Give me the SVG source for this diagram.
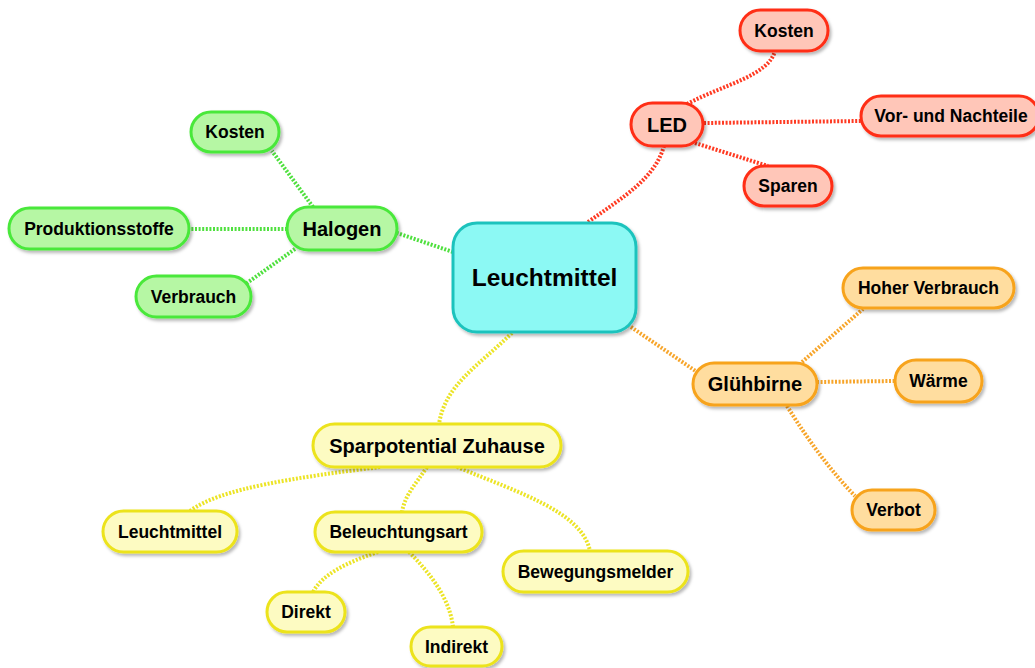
<svg xmlns="http://www.w3.org/2000/svg" width="1035" height="668" viewBox="0 0 1035 668">
<defs>
<filter id="sh" x="-20%" y="-30%" width="140%" height="160%">
<feDropShadow dx="2" dy="2.5" stdDeviation="1.5" flood-color="#000" flood-opacity="0.28"/>
</filter>
<style>
.c{fill:none;stroke-width:4;stroke-dasharray:2 1.6}
.cr{stroke:#ff3a22}.cg{stroke:#4fe03e}.co{stroke:#f7a52a}.cy{stroke:#ece426}
rect{stroke-width:3;filter:url(#sh)}
.r{fill:#ffc6b8;stroke:#ff2d14}
.g{fill:#b6f7a4;stroke:#4ae83a}
.o{fill:#ffdd9f;stroke:#f7a31c}
.y{fill:#fdfbc2;stroke:#ece31c}
.m{fill:#8cf9f4;stroke:#1fc3bd}
text{font-family:"Liberation Sans",Arial,Helvetica,sans-serif;font-weight:bold;fill:#000;text-anchor:middle}
.s{font-size:17.5px}.b{font-size:20px}.x{font-size:24.5px}
</style>
</defs>
<rect width="1035" height="668" fill="#fff" style="filter:none;stroke:none"/>
<g id="connectors">
<path class="c cr" d="M588,222 C625,196 655,178 664,146"/>
<path class="c cg" d="M453,252 L397,233"/>
<path class="c co" d="M628,325 L697,372"/>
<path class="c cy" d="M512,333 C478,366 445,385 439,424"/>
<path class="c cr" d="M687,104 C725,84 768,76 775,51"/>
<path class="c cr" d="M704,123 L861,121"/>
<path class="c cr" d="M695,143 L768,166"/>
<path class="c cg" d="M313,207 L272,151"/>
<path class="c cg" d="M287,229 L189,229"/>
<path class="c cg" d="M295,249 L247,283"/>
<path class="c co" d="M802,362 L863,309"/>
<path class="c co" d="M817,382 L895,381"/>
<path class="c co" d="M787,406 C808,440 830,470 855,496"/>
<path class="c cy" d="M380,467 C300,477 220,488 190,511"/>
<path class="c cy" d="M427,467 C415,485 405,495 402,512"/>
<path class="c cy" d="M457,467 C520,493 582,512 590,551"/>
<path class="c cy" d="M378,552 C345,563 322,575 313,592"/>
<path class="c cy" d="M409,552 C432,575 450,600 453,627"/>
</g>
<g id="n-center"><rect class="m" x="453" y="223" width="183" height="109" rx="24"/><text class="x" x="544.5" y="286">Leuchtmittel</text></g>
<g id="n-led"><rect class="r" x="631" y="103" width="72" height="43" rx="21.5"/><text class="b" x="667" y="131.5">LED</text></g>
<g id="n-led-kosten"><rect class="r" x="740" y="10" width="88" height="41" rx="20.5"/><text class="s" x="784" y="36.5">Kosten</text></g>
<g id="n-vor"><rect class="r" x="861" y="96" width="178" height="40" rx="20"/><text class="s" x="951" y="122">Vor- und Nachteile</text></g>
<g id="n-sparen"><rect class="r" x="744" y="166" width="88" height="40" rx="20"/><text class="s" x="788" y="192">Sparen</text></g>
<g id="n-halogen"><rect class="g" x="287" y="207" width="110" height="43" rx="21.5"/><text class="b" x="342" y="235.5">Halogen</text></g>
<g id="n-hal-kosten"><rect class="g" x="191" y="112" width="88" height="40" rx="20"/><text class="s" x="235" y="138">Kosten</text></g>
<g id="n-prod"><rect class="g" x="9" y="208" width="180" height="41" rx="20.5"/><text class="s" x="99" y="234.5">Produktionsstoffe</text></g>
<g id="n-verbrauch"><rect class="g" x="136" y="276" width="115" height="41" rx="20.5"/><text class="s" x="193.5" y="302.5">Verbrauch</text></g>
<g id="n-gluehbirne"><rect class="o" x="693" y="363" width="124" height="42" rx="21"/><text class="b" x="755" y="391">Glühbirne</text></g>
<g id="n-hoher"><rect class="o" x="843" y="268" width="171" height="40" rx="20"/><text class="s" x="928.5" y="294">Hoher Verbrauch</text></g>
<g id="n-waerme"><rect class="o" x="895" y="360" width="87" height="42" rx="21"/><text class="s" x="938.5" y="387">Wärme</text></g>
<g id="n-verbot"><rect class="o" x="852" y="490" width="83" height="40" rx="20"/><text class="s" x="893.5" y="516">Verbot</text></g>
<g id="n-spar"><rect class="y" x="313" y="424" width="248" height="43" rx="21.5"/><text class="b" x="437" y="452.5">Sparpotential Zuhause</text></g>
<g id="n-leucht2"><rect class="y" x="103" y="511" width="134" height="41" rx="20.5"/><text class="s" x="170" y="537.5">Leuchtmittel</text></g>
<g id="n-beleucht"><rect class="y" x="315" y="512" width="167" height="40" rx="20"/><text class="s" x="398.5" y="538">Beleuchtungsart</text></g>
<g id="n-beweg"><rect class="y" x="503" y="551" width="185" height="41" rx="20.5"/><text class="s" x="595.5" y="577.5">Bewegungsmelder</text></g>
<g id="n-direkt"><rect class="y" x="267" y="592" width="78" height="40" rx="20"/><text class="s" x="306" y="618">Direkt</text></g>
<g id="n-indirekt"><rect class="y" x="411" y="627" width="91" height="39" rx="19.5"/><text class="s" x="456.5" y="652.5">Indirekt</text></g>
</svg>
